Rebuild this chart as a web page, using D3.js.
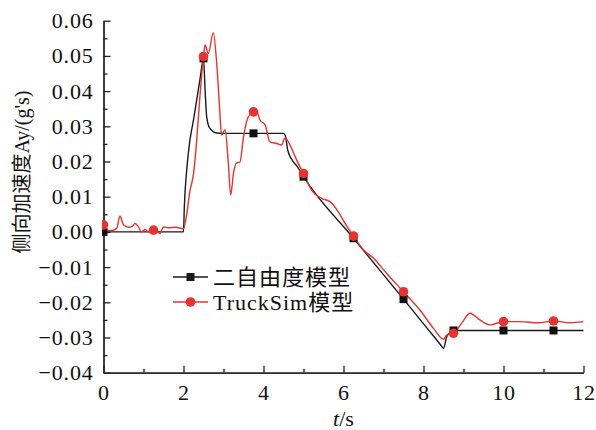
<!DOCTYPE html>
<html lang="zh">
<head>
  <meta charset="UTF-8">
  <title>侧向加速度</title>
  <script src="https://d3js.org/d3.v7.min.js"></script>
  <style>
    body { margin: 0; background: #fff; }
    .axis path, .axis line { fill: none; stroke: #222; stroke-width: 1.3; }
    .axis text { font-family: "Liberation Serif", "Times New Roman", serif; font-size: 22px; letter-spacing: 0.8px; fill: #111; }
    .label { font-family: "Liberation Serif", "Noto Sans CJK SC", serif; fill: #111; }
  </style>
</head>
<body>
  <div id="app"></div>
  <script>
    // 二自由度模型
    var dofT = [0, 2.0, 2.02, 2.08, 2.16, 2.25, 2.33, 2.41, 2.5, 2.54, 2.58, 2.66, 2.83, 3.0, 3.75, 4.5, 4.55, 4.6, 4.7, 4.85, 5.0, 6.25, 7.5, 8.3, 8.45, 8.5, 8.58, 8.7, 8.75, 10, 11.25, 12];
    var dofV = [0, 0, 0.007, 0.0176, 0.026, 0.0318, 0.0375, 0.0432, 0.0493, 0.0403, 0.0327, 0.0294, 0.0281, 0.028, 0.028, 0.028, 0.0272, 0.0235, 0.0207, 0.0185, 0.0157, -0.0018, -0.0191, -0.0303, -0.0324, -0.0331, -0.0298, -0.0283, -0.028, -0.028, -0.028, -0.028];

    // TruckSim模型
    var simT = [0, 0.08, 0.2, 0.33, 0.41, 0.5, 0.62, 0.71, 0.79, 0.87, 0.95, 1.04, 1.12, 1.25, 1.41, 1.5, 1.62, 1.8, 2.0, 2.08, 2.16, 2.25, 2.33, 2.41, 2.5, 2.54, 2.62, 2.745, 2.83, 2.91, 2.95, 3.04, 3.12, 3.18, 3.25, 3.33, 3.41, 3.5, 3.62, 3.75, 3.83, 3.91, 4.04, 4.16, 4.33, 4.45, 4.54, 4.66, 4.83, 5.0, 5.2, 5.45, 5.66, 5.87, 6.05, 6.25, 6.5, 6.75, 7.08, 7.5, 7.91, 8.25, 8.5, 8.58, 8.75, 8.95, 9.16, 9.41, 9.66, 10.0, 10.41, 10.87, 11.25, 11.66, 12.0];
    var simV = [0.002, 0.0005, 0.0004, 0.001, 0.0045, 0.002, 0.0013, 0.0015, 0.0024, 0.0015, 0.0, 0.0007, 0.0, 0.0005, -0.0004, 0.0014, 0.0012, 0.0013, 0.0009, 0.005, 0.0115, 0.0165, 0.026, 0.0384, 0.0498, 0.0531, 0.0507, 0.0566, 0.0479, 0.0338, 0.0275, 0.029, 0.0196, 0.0105, 0.0167, 0.0196, 0.0198, 0.027, 0.0327, 0.0341, 0.0343, 0.0318, 0.0304, 0.0256, 0.0251, 0.0247, 0.0267, 0.0247, 0.0204, 0.0166, 0.0119, 0.0095, 0.0086, 0.0057, 0.0022, -0.0012, -0.0051, -0.0075, -0.0118, -0.017, -0.0222, -0.0274, -0.0305, -0.0293, -0.0288, -0.026, -0.0231, -0.025, -0.0264, -0.0255, -0.0255, -0.0258, -0.0253, -0.0258, -0.0255];

    // 符号位置
    var markT = [0, 1.25, 2.5, 3.75, 5.0, 6.25, 7.5, 8.75, 10, 11.25];

    var xTicks = [0, 2, 4, 6, 8, 10, 12];
    var xMinor = [1, 3, 5, 7, 9, 11];
    var yTicks = [-0.04, -0.03, -0.02, -0.01, 0, 0.01, 0.02, 0.03, 0.04, 0.05, 0.06];
    var yMinor = [-0.035, -0.025, -0.015, -0.005, 0.005, 0.015, 0.025, 0.035, 0.045, 0.055];

    var width = 596, height = 430;
    var margin = { left: 103.5, top: 20.7, right: 12.5, bottom: 57.3 };
    var g_width = width - margin.left - margin.right;
    var g_height = height - margin.top - margin.bottom;

    var svg = d3.select("#app").append("svg")
      .attr("width", width)
      .attr("height", height);

    var g = svg.append("g")
      .attr("transform", "translate(" + margin.left + "," + margin.top + ")");

    var x = d3.scaleLinear().domain([0, 12]).range([0, g_width]);
    var y = d3.scaleLinear().domain([-0.04, 0.06]).range([g_height, 0]);

    svg.append("defs").append("clipPath").attr("id", "clip")
      .append("rect").attr("x", -1.5).attr("y", -10).attr("width", g_width + 10).attr("height", g_height + 20);

    // 坐标轴
    g.append("g").attr("class", "axis")
      .attr("transform", "translate(0," + g_height + ")")
      .call(d3.axisBottom(x).tickValues(xMinor).tickFormat("").tickSize(-4).tickSizeOuter(0));
    g.append("g").attr("class", "axis")
      .attr("transform", "translate(0," + g_height + ")")
      .call(d3.axisBottom(x).tickValues(xTicks).tickFormat(d3.format("d")).tickSize(-7).tickSizeOuter(0).tickPadding(12));
    g.append("g").attr("class", "axis")
      .call(d3.axisLeft(y).tickValues(yMinor).tickFormat("").tickSize(-4).tickSizeOuter(0));
    g.append("g").attr("class", "axis")
      .call(d3.axisLeft(y).tickValues(yTicks).tickFormat(d3.format(".2f")).tickSize(-7).tickSizeOuter(0).tickPadding(10));

    var dof = dofT.map(function (t, i) { return [t, dofV[i]]; });
    var sim = simT.map(function (t, i) { return [t, simV[i]]; });

    var line = d3.line()
      .x(function (d) { return x(d[0]); })
      .y(function (d) { return y(d[1]); })
      .curve(d3.curveMonotoneX);

    var plot = g.append("g").attr("clip-path", "url(#clip)");

    plot.append("path").attr("d", line(dof))
      .attr("fill", "none").attr("stroke", "#1a1a1a").attr("stroke-width", 1.4);
    plot.append("path").attr("d", line(sim))
      .attr("fill", "none").attr("stroke", "#e8322f").attr("stroke-width", 1.4);

    plot.selectAll(".sq").data(dof.filter(function (d) { return markT.indexOf(d[0]) >= 0; }))
      .enter().append("rect")
      .attr("x", function (d) { return x(d[0]) - 4; })
      .attr("y", function (d) { return y(d[1]) - 4; })
      .attr("width", 8).attr("height", 8)
      .attr("fill", "#111");
    plot.selectAll(".ci").data(sim.filter(function (d) { return markT.indexOf(d[0]) >= 0; }))
      .enter().append("circle")
      .attr("cx", function (d) { return x(d[0]); })
      .attr("cy", function (d) { return y(d[1]); })
      .attr("r", 4.8)
      .attr("fill", "#e8322f");

    // 轴标题
    svg.append("text").attr("class", "label")
      .attr("transform", "translate(29,172) rotate(-90)")
      .attr("text-anchor", "middle")
      .style("font-size", "20px")
      .text("侧向加速度Ay/(g's)");

    var xl = svg.append("text").attr("class", "label")
      .attr("x", margin.left + g_width / 2).attr("y", 426)
      .attr("text-anchor", "middle")
      .style("font-size", "22px");
    xl.append("tspan").style("font-style", "italic").text("t");
    xl.append("tspan").text("/s");

    // 图例
    var legend = [
      { name: "二自由度模型", color: "#1a1a1a", shape: "square" },
      { name: "TruckSim模型", color: "#e8322f", shape: "circle" }
    ];
    var lg = svg.append("g").attr("transform", "translate(173,277)");
    legend.forEach(function (d, i) {
      var row = lg.append("g").attr("transform", "translate(0," + (i * 25) + ")");
      row.append("line").attr("x1", 0).attr("x2", 35).attr("y1", 0).attr("y2", 0)
        .attr("stroke", d.color).attr("stroke-width", 1.4);
      if (d.shape === "square") {
        row.append("rect").attr("x", 13.5).attr("y", -4).attr("width", 8).attr("height", 8).attr("fill", d.color);
      } else {
        row.append("circle").attr("cx", 17.5).attr("cy", 0).attr("r", 4.8).attr("fill", d.color);
      }
      row.append("text").attr("class", "label")
        .attr("x", 40).attr("y", 0).attr("dy", "0.35em")
        .style("font-size", "22px")
        .style("letter-spacing", "1px")
        .text(d.name);
    });
  </script>
</body>
</html>
